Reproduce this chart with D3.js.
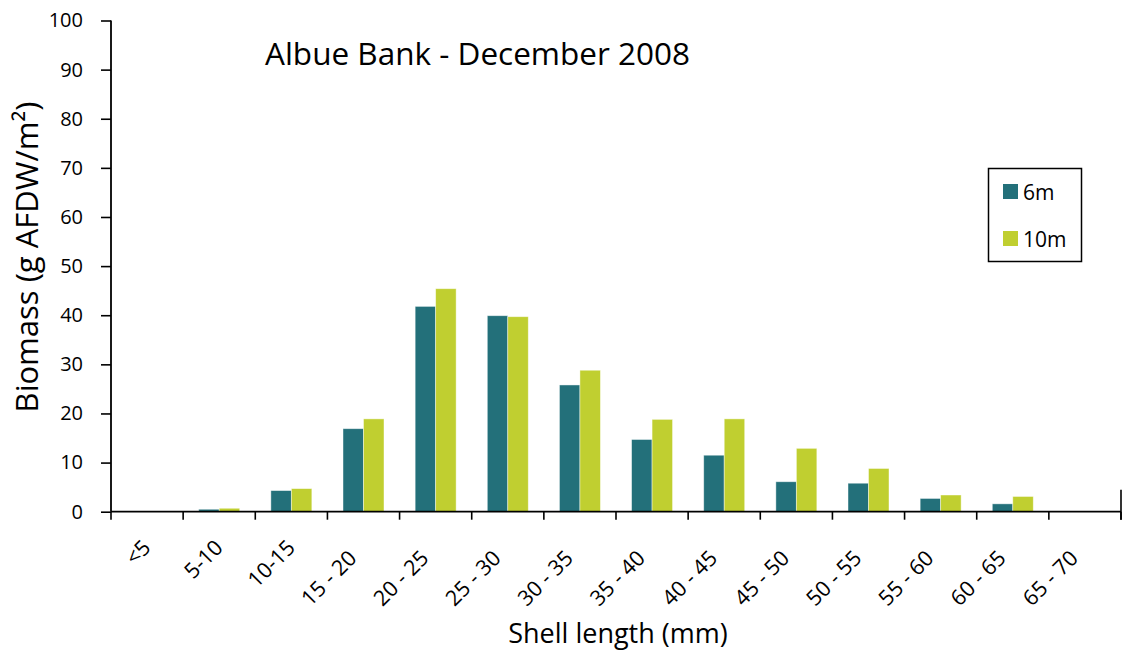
<!DOCTYPE html>
<html>
<head>
<meta charset="utf-8">
<script src="https://cdn.jsdelivr.net/npm/d3@7/dist/d3.min.js"></script>
<style>
  html, body { margin: 0; padding: 0; background: #ffffff; }
  svg { display: block; font-family: "Open Sans", "Noto Sans", sans-serif; }
</style>
</head>
<body>
<svg id="chart" width="1125" height="652"></svg>
<script>
const categories = ["<5", "5-10", "10-15", "15 - 20", "20 - 25", "25 - 30", "30 - 35",
                    "35 - 40", "40 - 45", "45 - 50", "50 - 55", "55 - 60", "60 - 65", "65 - 70"];
const seriesNames = ["6m", "10m"];
const values6m  = [0, 0.5, 4.3, 16.9, 41.8, 39.9, 25.8, 14.7, 11.5, 6.1, 5.8, 2.7, 1.6, 0];
const values10m = [0, 0.7, 4.7, 18.9, 45.4, 39.7, 28.8, 18.8, 18.9, 12.9, 8.8, 3.4, 3.1, 0];
const yTicks = [0, 10, 20, 30, 40, 50, 60, 70, 80, 90, 100];
const seriesColors = ["#23707a", "#c0cf30"];
const chartTitle = "Albue Bank - December 2008";
const xTitle = "Shell length (mm)";
const yTitle = "Biomass (g AFDW/m²)";

const svg = d3.select("#chart");
const plotLeft = 111, plotRight = 1121, plotTop = 20.5, plotBottom = 511.7;

const x0 = d3.scaleBand().domain(categories).range([plotLeft, plotRight]).padding(0);
const x1 = d3.scaleBand().domain(seriesNames).range([0, x0.bandwidth()])
  .paddingInner(0).paddingOuter(0.76);
const y = d3.scaleLinear().domain([0, 100]).range([plotBottom, plotTop]);

const data = categories.map((c, i) => ({cat: c, vals: [values6m[i], values10m[i]]}));

// bars
const groups = svg.append("g").selectAll("g").data(data).join("g")
  .attr("transform", d => `translate(${x0(d.cat)},0)`);
groups.selectAll("rect").data(d => d.vals.map((v, j) => ({s: seriesNames[j], v, j})).filter(e => e.v > 0))
  .join("rect")
  .attr("x", d => x1(d.s))
  .attr("width", x1.bandwidth())
  .attr("y", d => y(d.v))
  .attr("height", d => y(0) - y(d.v))
  .attr("fill", d => seriesColors[d.j])
  .attr("stroke", "rgba(255,255,255,0.55)")
  .attr("stroke-width", 0.8);

// y axis
const yAxis = d3.axisLeft(y).tickValues(yTicks).tickSize(10).tickPadding(18);
const gy = svg.append("g").attr("transform", `translate(${plotLeft},0)`).call(yAxis);
gy.attr("font-family", null).attr("font-size", null);
gy.select(".domain").attr("stroke", "#000").attr("stroke-width", 1.8)
  .attr("d", `M0,${plotTop}V${plotBottom}`);
gy.selectAll(".tick line").attr("stroke", "#000").attr("stroke-width", 1.6);
gy.selectAll(".tick text").attr("font-size", 20).attr("fill", "#000");

// x axis line
svg.append("line").attr("x1", plotLeft).attr("x2", plotRight).attr("y1", y(0)).attr("y2", y(0))
  .attr("stroke", "#000").attr("stroke-width", 1.8);
// x boundary ticks
const bounds = categories.map(c => x0(c)).concat([x0.range()[1]]);
svg.append("g").selectAll("line").data(bounds).join("line")
  .attr("x1", d => d).attr("x2", d => d)
  .attr("y1", y(0)).attr("y2", y(0) + 8)
  .attr("stroke", "#000").attr("stroke-width", 1.6);
// right end marker
svg.append("line").attr("x1", plotRight).attr("x2", plotRight).attr("y1", y(0) - 22).attr("y2", y(0) + 8)
  .attr("stroke", "#000").attr("stroke-width", 1.6);

// x labels rotated
svg.append("g").selectAll("text").data(categories).join("text")
  .attr("transform", d => `translate(${x0(d) + x0.bandwidth() / 2 + 5},549) rotate(-45)`)
  .attr("dx", d => d.includes(" - ") ? -15 : 0)
  .attr("text-anchor", "end")
  .attr("font-size", 21.5)
  .attr("fill", "#000")
  .text(d => d);

// titles
svg.append("text").attr("x", 265).attr("y", 65).attr("font-size", 31.5).attr("fill", "#000")
  .text(chartTitle);
svg.append("text").attr("x", 618).attr("y", 643).attr("text-anchor", "middle")
  .attr("font-size", 27).attr("fill", "#000").text(xTitle);
svg.append("text").attr("transform", "translate(38,257) rotate(-90)")
  .attr("text-anchor", "middle").attr("font-size", 31).attr("fill", "#000").text(yTitle);

// legend
const lg = svg.append("g");
lg.append("rect").attr("x", 988.5).attr("y", 168.5).attr("width", 93).attr("height", 93)
  .attr("fill", "#fff").attr("stroke", "#000").attr("stroke-width", 1.5);
const legendItems = lg.selectAll("g.item").data(seriesNames).join("g").attr("class", "item")
  .attr("transform", (d, i) => `translate(1003,${184 + i * 47})`);
legendItems.append("rect").attr("width", 15).attr("height", 15)
  .attr("fill", (d, i) => seriesColors[i]);
legendItems.append("text").attr("x", 20).attr("y", 15.5).attr("font-size", 21)
  .attr("fill", "#000").text(d => d);
</script>
</body>
</html>
